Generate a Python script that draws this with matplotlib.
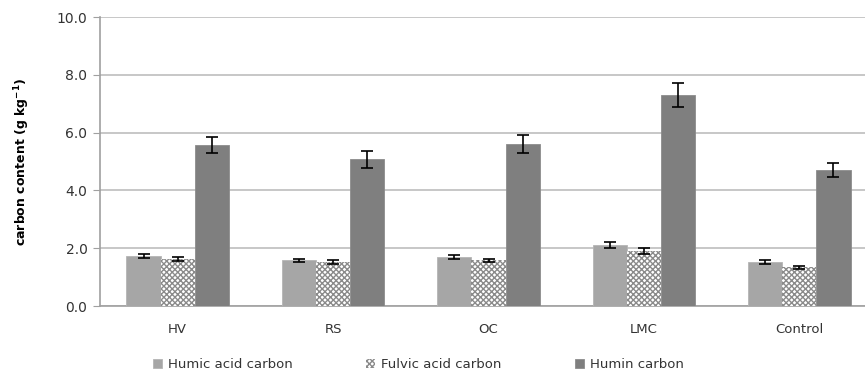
import numpy as np
import matplotlib.pyplot as plt

categories = ['HV', 'RS', 'OC', 'LMC', 'Control']
humic = [1.73, 1.58, 1.69, 2.11, 1.53]
humic_err = [0.08, 0.06, 0.06, 0.11, 0.06]
fulvic = [1.63, 1.52, 1.58, 1.90, 1.34]
fulvic_err = [0.07, 0.07, 0.05, 0.10, 0.05]
humin = [5.57, 5.07, 5.61, 7.30, 4.71]
humin_err = [0.28, 0.30, 0.30, 0.43, 0.23]

fig = plt.figure(figsize=(8.65, 3.79), dpi=100)
ax = fig.add_axes([100 / 865, 73 / 379, 777 / 865, 289 / 379])

x = np.arange(len(categories))
w = 0.22
err_kw = dict(ecolor='black', elinewidth=1.2, capsize=4, capthick=1.2)

ax.bar(x - w, humic, w, yerr=humic_err, color='#a6a6a6', edgecolor='#b5b5b5',
       linewidth=0.6, label='Humic acid carbon', error_kw=err_kw, zorder=3)
ax.bar(x, fulvic, w, yerr=fulvic_err, color='white', edgecolor='#8a8a8a',
       hatch='xxxxxx', linewidth=0, label='Fulvic acid carbon', error_kw=err_kw, zorder=3)
ax.bar(x + w, humin, w, yerr=humin_err, color='#7f7f7f', edgecolor='#8c8c8c',
       linewidth=0.6, label='Humin carbon', error_kw=err_kw, zorder=3)

ax.set_xlim(-0.5, 4.5)
ax.set_ylim(0, 10)
ax.set_yticks(np.arange(0, 10.1, 2))
ax.set_yticklabels([f'{v:.1f}' for v in np.arange(0, 10.1, 2)])
ax.set_xticks(x)
ax.set_xticklabels(categories)
ax.tick_params(axis='x', length=0, pad=12, labelsize=9.5, colors='#333333')
ax.tick_params(axis='y', length=5, color='#a0a0a0', pad=4, labelsize=10, labelcolor='#333333')
ax.yaxis.grid(True, color='#bdbdbd', linewidth=1.2, zorder=0)
ax.set_axisbelow(True)

for s in ['top', 'right']:
    ax.spines[s].set_visible(False)
for s in ['left', 'bottom']:
    ax.spines[s].set_color('#a0a0a0')
    ax.spines[s].set_linewidth(1.2)

ax.set_ylabel('carbon content (g kg$^{\\mathbf{-1}}$)', fontsize=9, fontweight='bold', labelpad=18)

ax.legend(loc='upper left', bbox_to_anchor=(0.053, -0.14), ncol=3, frameon=False,
          handlelength=0.7, handleheight=0.7, handletextpad=0.4, columnspacing=5.6,
          fontsize=9.5, labelcolor='#333333')

fig.savefig('out.png', dpi=100)
